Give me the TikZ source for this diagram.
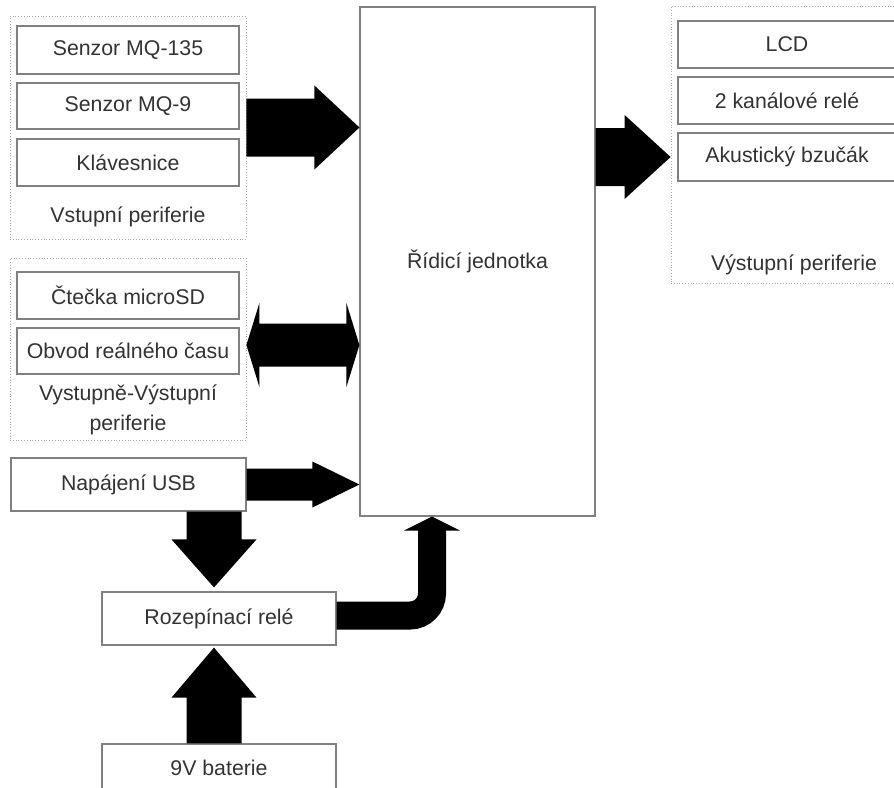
\documentclass[tikz,border=0pt]{standalone}
\usepackage{fontspec}
\setmainfont{Liberation Sans}
\usetikzlibrary{calc}
\newcommand{\lbl}{\fontsize{21.3pt}{30pt}\selectfont}
% horizontal block arrow: #1 start, #2 tip, #3 body half, #4 head half, #5 head length
\newcommand{\hblock}[5]{\fill[blk] let \p1=(#1),\p2=(#2) in (\x1,\y2+#3)--(\x2-#5,\y2+#3)--(\x2-#5,\y2+#4)--(\x2,\y2)--(\x2-#5,\y2-#4)--(\x2-#5,\y2-#3)--(\x1,\y2-#3)--cycle;}
% vertical block arrow: #5 signed head length (canvas)
\newcommand{\vblock}[5]{\fill[blk] let \p1=(#1),\p2=(#2) in (\x2-#3,\y1)--(\x2-#3,{\y2+(#5)})--(\x2-#4,{\y2+(#5)})--(\x2,\y2)--(\x2+#4,{\y2+(#5)})--(\x2+#3,{\y2+(#5)})--(\x2+#3,\y1)--cycle;}
% double block arrow
\newcommand{\dblock}[5]{\fill[blk] let \p1=(#1),\p2=(#2) in (\x1,\y2)--(\x1+#5,\y2+#4)--(\x1+#5,\y2+#3)--(\x2-#5,\y2+#3)--(\x2-#5,\y2+#4)--(\x2,\y2)--(\x2-#5,\y2-#4)--(\x2-#5,\y2-#3)--(\x1+#5,\y2-#3)--(\x1+#5,\y2-#4)--cycle;}
\begin{document}
\begin{tikzpicture}[x=1pt,y=-1pt,
  box/.style={draw=black!50, line width=1.2pt, fill=white, inner sep=0pt,
    text=black!80, font=\lbl, minimum width=222pt, minimum height=47pt},
  grp/.style={draw=black!35, dotted, line width=0.8pt, inner sep=0pt},
  txt/.style={text=black!80, font=\lbl, inner sep=0pt, align=center},
  blk/.style={fill=black}]
\useasboundingbox (0,0) rectangle (894,787);
\clip (0,0) rectangle (894,787);
\fill[white] (0,0) rectangle (894,787);

% groups
\node[grp, minimum width=236pt, minimum height=223pt] (inputs) at (128,127.5) {};
\node[grp, minimum width=236pt, minimum height=182pt] (io) at (128,349) {};
\node[grp, minimum width=246pt, minimum height=277pt] (outs) at (794,144.5) {};

% input boxes
\node[box, minimum height=48pt] (mq135) at (128,50) {Senzor MQ-135};
\node[box, minimum height=46pt] (mq9) at (128,106) {Senzor MQ-9};
\node[box] (kl) at (128,162.5) {Klávesnice};
\node[txt] (inlbl) at (128,217) {Vstupní periferie};

% io boxes
\node[box] (sd) at (128,295.5) {Čtečka microSD};
\node[box, minimum height=46pt] (rtc) at (128,351) {Obvod reálného času};
\node[txt] (iolbl) at (128,410) {Vystupně-Výstupní\\periferie};

% output boxes
\node[box, minimum width=218pt] (lcd) at (787,44.5) {LCD};
\node[box, minimum width=218pt] (rel2) at (787,100.5) {2 kanálové relé};
\node[box, minimum width=218pt, minimum height=48pt] (ak) at (787,157) {Akustický bzučák};
\node[txt] (outlbl) at (794,265) {Výstupní periferie};

% main unit
\node[box, minimum width=235pt, minimum height=509pt] (main) at (477.5,261.5) {Řídicí jednotka};

% power
\node[box, minimum width=235pt, minimum height=53pt] (usb) at (128.5,484.5) {Napájení USB};
\node[box, minimum width=234pt, minimum height=53pt] (rz) at (219,618.5) {Rozepínací relé};
\node[box, minimum width=234pt, minimum height=48pt] (bat) at (219,768) {9V baterie};

% arrows
\hblock{inputs.east}{main.west |- inputs.east}{29pt}{42pt}{45pt}
\hblock{main.east |- ak.west}{outs.west |- ak.west}{29pt}{42pt}{46pt}
\coordinate (dl) at ([yshift=4pt]io.east);
\dblock{dl}{main.west |- dl}{21.5pt}{42pt}{13pt}
\hblock{usb.east}{main.west |- usb.east}{16pt}{23pt}{47pt}
\coordinate (dtip) at ([xshift=-5pt,yshift=4pt]rz.north);
\vblock{usb.south -| dtip}{dtip}{27.5pt}{42.5pt}{48pt}
\coordinate (utip) at ([xshift=-5pt,yshift=-2pt]rz.south);
\vblock{bat.north -| utip}{utip}{27.5pt}{42.5pt}{-50pt}
\coordinate (cu) at ([xshift=-45.5pt]main.south);
\draw[black, line width=28pt, rounded corners=22pt] ([yshift=3pt]rz.east) -| ([yshift=-13pt]cu);
\fill[blk] (cu) -- ([xshift=-28pt,yshift=-14pt]cu) -- ([xshift=28pt,yshift=-14pt]cu) -- cycle;
\end{tikzpicture}
\end{document}
